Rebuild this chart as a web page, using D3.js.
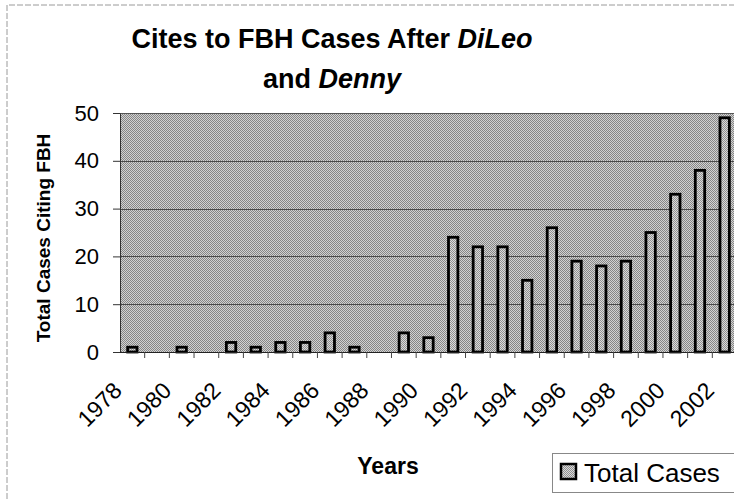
<!DOCTYPE html>
<html>
<head>
<meta charset="utf-8">
<script src="https://cdn.jsdelivr.net/npm/d3@7/dist/d3.min.js"></script>
<style>
  html, body { margin: 0; padding: 0; background: #fff; }
  svg { display: block; font-family: "Liberation Sans", Arial, sans-serif; }
</style>
</head>
<body>
<svg id="chart" width="734" height="499"></svg>
<script>
const years = [1978,1979,1980,1981,1982,1983,1984,1985,1986,1987,1988,1989,1990,
               1991,1992,1993,1994,1995,1996,1997,1998,1999,2000,2001,2002];
const totalCases = [1,0,1,0,2,1,2,2,4,1,0,4,3,24,22,22,15,26,19,18,19,25,33,38,49];
const yTicks = [0,10,20,30,40,50];
const xTickLabels = [1978,1980,1982,1984,1986,1988,1990,1992,1994,1996,1998,2000,2002];
const seriesName = "Total Cases";

const svg = d3.select("#chart");
const plot = {left: 120, top: 113, right: 737, bottom: 352};

// patterns
const defs = svg.append("defs");
function checker(id, dark, light) {
  const p = defs.append("pattern").attr("id", id).attr("patternUnits", "userSpaceOnUse")
    .attr("width", 2).attr("height", 2);
  p.append("rect").attr("width", 2).attr("height", 2).attr("fill", light);
  p.append("rect").attr("width", 1).attr("height", 1).attr("fill", dark);
  p.append("rect").attr("x", 1).attr("y", 1).attr("width", 1).attr("height", 1).attr("fill", dark);
}
checker("bgPat", "#868686", "#d2d2d2");
checker("barPat", "#909090", "#dadada");

// outer chart border (dashed, gray)
svg.append("path").attr("d", "M7,499 L7,5 L734,5")
  .attr("fill", "none").attr("stroke", "#9a9a9a").attr("stroke-width", 1)
  .attr("stroke-dasharray", "6,2");

const x = d3.scaleBand().domain(years).range([plot.left, plot.right])
  .paddingInner(0.62).paddingOuter(0.31);
const y = d3.scaleLinear().domain([0, 50]).range([plot.bottom, plot.top]);

// plot background
svg.append("rect").attr("x", plot.left).attr("y", plot.top)
  .attr("width", plot.right - plot.left).attr("height", plot.bottom - plot.top)
  .attr("fill", "url(#bgPat)").attr("shape-rendering", "crispEdges");

// gridlines
svg.append("g").selectAll("line").data(yTicks.filter(d => d > 0 && d < 50)).join("line")
  .attr("x1", plot.left).attr("x2", plot.right)
  .attr("y1", d => Math.round(y(d)) + 0.5).attr("y2", d => Math.round(y(d)) + 0.5)
  .attr("stroke", "#4a4a4a").attr("stroke-width", 1);

// plot border (left/top)
svg.append("path").attr("d", `M${plot.left+0.5},${plot.bottom} L${plot.left+0.5},${plot.top+0.5} L${plot.right},${plot.top+0.5}`)
  .attr("fill", "none").attr("stroke", "#555").attr("stroke-width", 1);

// bars
const data = years.map((yr, i) => ({year: yr, value: totalCases[i]}));
svg.append("g").selectAll("rect").data(data.filter(d => d.value > 0)).join("rect")
  .attr("x", d => x(d.year))
  .attr("y", d => y(d.value))
  .attr("width", x.bandwidth())
  .attr("height", d => y(0) - y(d.value))
  .attr("fill", "url(#barPat)")
  .attr("stroke", "#000").attr("stroke-width", 2.8);

// y axis
const yAxis = d3.axisLeft(y).tickValues(yTicks).tickSize(7).tickPadding(14)
  .tickFormat(d3.format("d"));
const gy = svg.append("g").attr("transform", `translate(${plot.left},0)`).call(yAxis);
gy.select(".domain").attr("stroke", "#333");
gy.selectAll(".tick line").attr("stroke", "#333");
gy.selectAll(".tick text").attr("font-size", 22).attr("fill", "#000")
  .attr("font-family", "Liberation Sans, Arial, sans-serif");

// x axis line
svg.append("line").attr("x1", plot.left).attr("x2", plot.right)
  .attr("y1", plot.bottom + 0.5).attr("y2", plot.bottom + 0.5)
  .attr("stroke", "#222").attr("stroke-width", 1.2);

// x ticks at category boundaries
const step = x.step();
const bounds = d3.range(1, years.length);
svg.append("g").selectAll("line").data(bounds).join("line")
  .attr("x1", i => x(years[i]) - (step - x.bandwidth()) / 2)
  .attr("x2", i => x(years[i]) - (step - x.bandwidth()) / 2)
  .attr("y1", plot.bottom).attr("y2", plot.bottom + 6)
  .attr("stroke", "#444").attr("stroke-width", 1);

// x labels
svg.append("g").selectAll("text").data(xTickLabels).join("text")
  .attr("transform", d => `translate(${x(d) + x.bandwidth() / 2 - 9},392) rotate(-45)`)
  .attr("text-anchor", "end")
  .attr("font-size", 23).attr("fill", "#000")
  .text(d => d);

// axis titles
svg.append("text").attr("x", 388).attr("y", 474).attr("text-anchor", "middle")
  .attr("font-size", 23).attr("font-weight", "bold").text("Years");
svg.append("text").attr("transform", "translate(50,238) rotate(-90)")
  .attr("text-anchor", "middle").attr("font-size", 19).attr("font-weight", "bold")
  .text("Total Cases Citing FBH");

// title
const t1 = svg.append("text").attr("x", 332).attr("y", 48).attr("text-anchor", "middle")
  .attr("font-size", 27).attr("font-weight", "bold");
t1.append("tspan").text("Cites to FBH Cases After ");
t1.append("tspan").attr("font-style", "italic").text("DiLeo");
const t2 = svg.append("text").attr("x", 332).attr("y", 88).attr("text-anchor", "middle")
  .attr("font-size", 27).attr("font-weight", "bold");
t2.append("tspan").text("and ");
t2.append("tspan").attr("font-style", "italic").text("Denny");

// legend
const lg = svg.append("g");
lg.append("rect").attr("x", 552.5).attr("y", 453.5).attr("width", 200).attr("height", 39)
  .attr("fill", "#fff").attr("stroke", "#888").attr("stroke-width", 1);
lg.append("rect").attr("x", 561).attr("y", 464).attr("width", 15).attr("height", 15)
  .attr("fill", "url(#barPat)").attr("stroke", "#000").attr("stroke-width", 2.5);
lg.append("text").attr("x", 584).attr("y", 482).attr("font-size", 26).attr("fill", "#000")
  .text(seriesName);
</script>
</body>
</html>
